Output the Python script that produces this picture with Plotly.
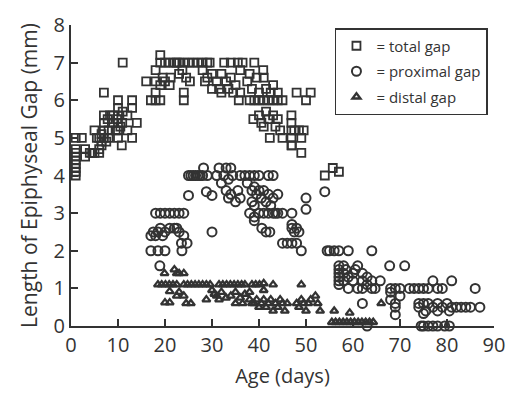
import plotly.graph_objects as go

# total gap (squares)
total_x = [1,1,1,1,1,1,1,1,1,2.3,
           3,3,4,4.5,5,6,6,6.5,
           5,5.5,6,6.5,7,7,7.5,8,8,6.5,
           7,7,7,7.8,8.3,9,9,
           9.5,10,10,10,10,10,10,10.5,9.8,
           10.9,10.8,11,12,13,13,13,14,11,12,
           16,17,18,18,18,18,19,19,19,19,19.5,20,20,21,21,21.2,22,22.5,23,23,24,24,24,23.7,24.5,25,25.3,26,27,28,28,28.5,29,29.5,29,30,30,
           31,31.5,32,32,32.6,33,33.5,34,34,34.5,35,35.5,36,36,36.5,35.7,
           37.5,38,38,38.5,39,39,39.5,40,40,40.9,41,41,41.5,42,42.5,43,43,44,44,45,
           48,50,51,
           38.8,40,40.5,41,41.5,42,42.3,43,43.5,44,45,44.5,46.9,46.9,46.9,46.9,46.9,47.5,48.5,49,49.5,49,47,
           54,55.7,57]
total_y = [4.0,4.1,4.2,4.3,4.4,4.5,4.6,4.7,5.0,5.0,
           4.7,4.5,4.6,4.6,4.6,4.6,4.7,4.8,
           5.2,5.0,5.0,4.9,5.0,5.2,4.9,5.0,5.2,5.1,
           6.2,5.4,5.6,5.5,5.6,5.4,5.6,
           5.2,6.0,5.8,5.6,5.4,5.2,5.0,5.3,5.5,
           5.4,4.8,7.0,5.6,6.0,5.8,5.0,5.4,5.7,5.2,
           6.5,6.0,6.0,6.2,6.5,6.8,7.2,7.0,6.0,6.4,6.6,6.5,7.0,6.4,7.0,6.6,7.0,7.0,6.7,7.0,7.0,6.2,6.0,6.8,6.6,7.0,6.5,7.0,7.0,7.0,6.8,6.5,7.0,7.0,6.6,6.3,6.7,
           6.5,6.3,6.7,6.2,7.0,6.5,6.3,7.0,6.6,6.2,6.4,7.0,6.2,6.8,7.0,6.0,
           6.5,6.0,6.7,6.3,7.0,6.0,6.6,6.0,6.2,6.8,6.6,6.0,6.3,6.0,6.2,6.0,6.4,6.0,6.2,6.0,
           6.2,6.0,6.2,
           5.5,5.6,5.4,5.3,5.7,5.5,5.0,5.6,5.3,5.5,5.0,5.2,5.6,5.4,5.2,5.0,4.8,5.2,5.2,5.0,5.2,4.6,4.8,
           4.0,4.2,4.1]

# proximal gap (circles)
prox_x = [17,17.5,18,18.5,19,19.5,20,21,22,22.5,23,24,24.7,23.5,23.6,
          18,19,20,21,22,23,24,
          17,18.5,20,18.9,
          25,25.5,26,26.5,27,27.5,28,29,28.2,31,31.5,32,32.5,33,34,33.5,34.4,25,28.8,30,33,33.5,34,35,36,35.5,30,
          36,37,38,39,40,42,43,37.5,38.5,39,39.5,40,40.5,41,41.5,42,42,42.5,43,43,43.5,44,44,45,38,38.5,39,39,39,40,41,40.6,41.5,42.3,
          47,50,50,47,47,47.5,48,48.5,45,46,47,48,49,54,
          54.5,55,56,57,59,64,
          57,57,57,57,57,57,58,58,58,58.5,59,59,60,60,60.5,61,61,62,62,62,63,63,64,64,64.7,65.8,62,63,
          67.8,71,68,69,70,72,73,74,75,76,77,78,79,81,86,
          68,68,69,69,70,69,
          74,74,75,75.5,76,77,78,78,79,80,80.5,81,82,83,84,85,87,75,
          74.5,75,76,77,78,79.5,80.5]
prox_y = [2.4,2.5,2.4,2.5,2.6,2.4,2.5,2.6,2.6,2.6,2.5,2.4,2.2,2.2,2.0,
          3.0,3.0,3.0,3.0,3.0,3.0,3.0,
          2.0,2.0,2.0,1.6,
          4.0,4.0,4.0,4.0,4.0,4.0,4.0,4.0,4.2,4.0,4.2,3.8,4.0,4.2,4.2,3.9,4.0,3.47,3.57,3.47,3.6,3.4,3.5,3.3,3.4,3.6,2.5,
          4.0,4.0,4.0,4.0,4.0,4.0,4.0,3.8,3.6,3.7,3.5,3.6,3.4,3.6,3.3,3.5,3.0,3.2,3.4,3.0,3.0,3.5,3.0,3.0,3.0,3.3,3.2,2.9,2.8,3.0,3.0,2.6,2.5,2.5,
          3.0,3.4,3.1,2.7,2.6,2.5,2.6,2.5,2.2,2.2,2.2,2.2,2.0,3.57,
          2.0,2.0,2.0,2.0,2.0,2.0,
          1.6,1.5,1.4,1.3,1.2,1.1,1.6,1.4,1.2,1.5,1.3,1.0,1.4,1.2,1.5,1.6,1.0,1.4,1.2,1.0,1.3,1.1,1.2,1.0,1.0,1.2,0.6,0.0,
          1.6,1.6,1.0,1.0,1.0,1.0,1.0,1.0,1.0,1.0,1.2,1.0,1.0,1.2,1.0,
          0.9,0.7,0.6,0.5,0.8,0.3,
          0.6,0.5,0.6,0.4,0.6,0.5,0.4,0.6,0.5,0.6,0.4,0.5,0.5,0.5,0.5,0.5,0.5,0.33,
          0,0,0,0,0,0,0]

# distal gap (triangles)
dist_x = [19.9,22,22.5,23,24,
          18.5,19.3,20.1,20.9,21.7,22.5,24,24.8,25.6,26.4,27.2,28,28.8,29.6,31.5,32.3,33.1,33.9,34.7,35.5,36.3,37,38.5,39.3,40.1,
          21,22.5,23,24,20,21,24.5,25.5,28.8,30,30.5,31,31.5,32,33,34,35,35,36,36.5,37,38,38.5,38,
          41,43,49,41,
          39,39.5,40,40.5,41,41.5,42,42.5,43,43.5,44,44.5,45,45.5,46,48,48.5,49,49.5,50,50.5,51,52,52.5,53,
          56,59.3,
          55.5,56.3,57.1,57.9,58.7,59.5,60.3,61.1,61.9,62.7,63.5,64.3,
          66]
dist_y = [1.4,1.5,1.4,1.4,1.4,
          1.1,1.1,1.1,1.1,1.1,1.1,1.1,1.1,1.1,1.1,1.1,1.1,1.1,1.1,1.1,1.1,1.1,1.1,1.1,1.1,1.1,1.1,1.1,1.1,1.1,
          0.92,0.8,0.9,0.8,0.62,0.62,0.6,0.6,0.7,0.95,0.85,0.8,0.7,0.9,0.75,0.8,0.6,0.9,0.75,0.6,0.85,0.7,0.6,0.9,
          1.13,1.1,1.1,0.95,
          0.6,0.7,0.5,0.6,0.7,0.5,0.6,0.7,0.4,0.6,0.5,0.7,0.6,0.4,0.6,0.6,0.5,0.7,0.6,0.4,0.6,0.7,0.8,0.6,0.4,
          0.4,0.35,
          0.1,0.1,0.1,0.1,0.1,0.1,0.1,0.1,0.1,0.1,0.1,0.1,
          0.6]

x_ticks = [0,10,20,30,40,50,60,70,80,90]
y_ticks = [0,1,2,3,4,5,6,7,8]

ink = "#333333"
font = "Open Sans"

fig = go.Figure()
fig.add_trace(go.Scatter(x=total_x, y=total_y, mode="markers", name="= total gap",
                         legendgroup="a", cliponaxis=False,
                         marker=dict(symbol="square-open", size=8, color=ink, line=dict(width=1.8, color=ink))))
fig.add_trace(go.Scatter(x=prox_x, y=prox_y, mode="markers", name="= proximal gap",
                         legendgroup="b", cliponaxis=False,
                         marker=dict(symbol="circle-open", size=9, color=ink, line=dict(width=2, color=ink))))
fig.add_trace(go.Scatter(x=dist_x, y=dist_y, mode="markers", name="= distal gap",
                         legendgroup="c", cliponaxis=False,
                         marker=dict(symbol="triangle-up-open", size=7, color=ink, line=dict(width=2.3, color=ink))))

axis_common = dict(showgrid=False, zeroline=False, showline=True, linecolor=ink, linewidth=2,
                   ticks="inside", ticklen=7, tickwidth=1.5, tickcolor=ink,
                   ticklabeloverflow="allow",
                   tickfont=dict(family=font, size=20, color=ink))

fig.update_layout(
    width=516, height=397,
    margin=dict(l=71, r=11, t=14, b=71),
    paper_bgcolor="white", plot_bgcolor="white",
    xaxis=dict(range=[0, 90], tickvals=x_ticks, ticktext=[str(v) for v in x_ticks],
               title=dict(text="Age (days)", font=dict(family=font, size=20, color=ink), standoff=12),
               **axis_common),
    yaxis=dict(range=[0, 8], tickvals=y_ticks, ticktext=[str(v) for v in y_ticks],
               title=dict(text="Length of Epiphyseal Gap (mm)", font=dict(family=font, size=21, color=ink), standoff=10),
               **axis_common),
    legend=dict(x=0.624, y=0.99, xanchor="left", yanchor="top",
                bordercolor=ink, borderwidth=1.5, bgcolor="white",
                font=dict(family=font, size=15, color=ink),
                traceorder="grouped", tracegroupgap=3),
    showlegend=True,
)

fig.write_html("out.html")
